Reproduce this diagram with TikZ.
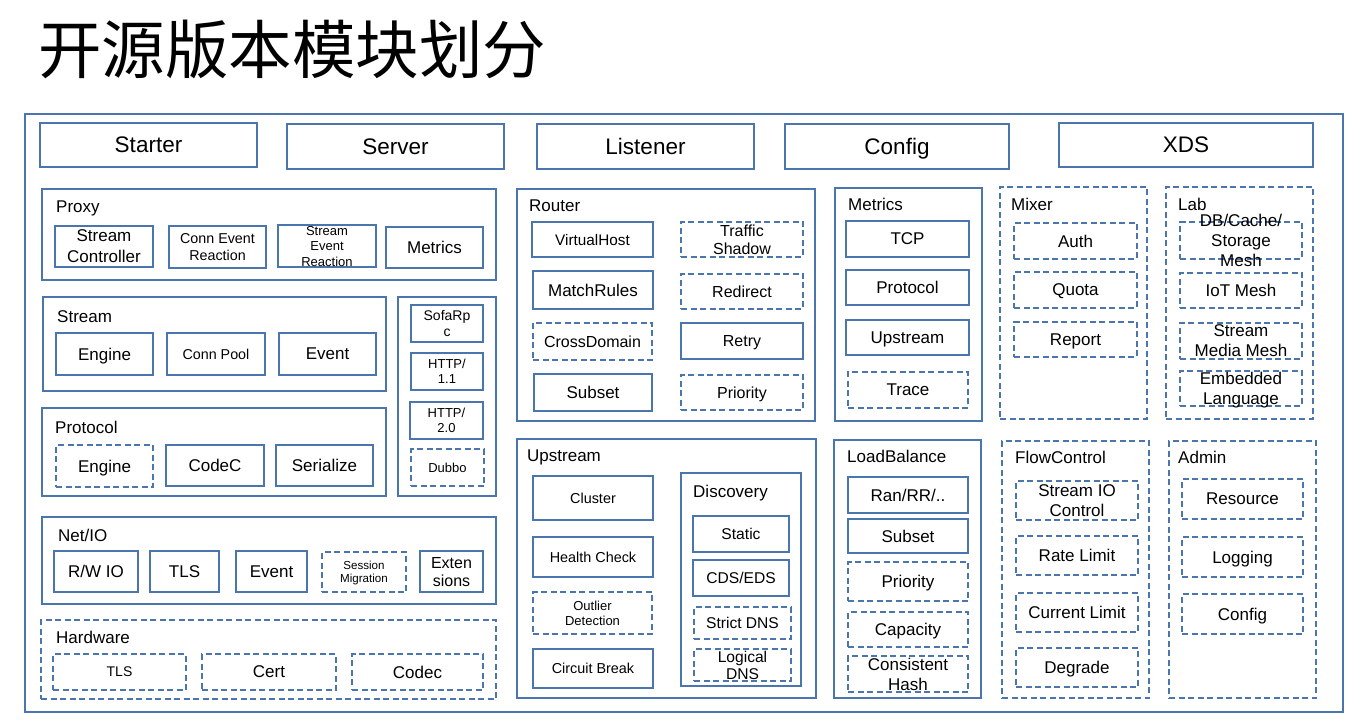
\documentclass[tikz,border=0pt]{standalone}
\usepackage{fontspec}
\setmainfont{Liberation Sans}
\newfontfamily\cjk{Noto Sans CJK SC}
\definecolor{bl}{HTML}{4A75AD}
\newcommand\fsz[2]{\fontsize{#1pt}{#2pt}\selectfont}
\tikzset{
  solidbox/.style={draw=bl, line width=1.3pt, rectangle, inner sep=0pt},
  dashbox/.style={solidbox, dash pattern=on 6pt off 3.5pt},
  lbl/.style={align=center, inner sep=0pt, text=black, text depth=0pt},
  sect/.style={anchor=base west, inner sep=0pt, text=black, font=\fsz{17}{20}}
}
% #1 style, #2 name, #3 x1, #4 y1, #5 x2, #6 y2, #7 font size, #8 line skip, #9 text
\newcommand\bxx[9]{%
  \node[#1, minimum width={(#5-#3)*1pt}, minimum height={(#6-#4)*1pt},
        label={[lbl, font=\fsz{#7}{#8}]center:{#9}}] (#2) at ({(#3+#5)/2},{-(#4+#6)/2}) {};}
\begin{document}
\begin{tikzpicture}[x=1pt,y=1pt]
\useasboundingbox (0,0) rectangle (1361,-727);
\node[anchor=west, inner sep=0pt, font=\cjk\fontsize{63.5pt}{68pt}\selectfont] (title) at (38,-49) {开源版本模块划分};
% outer
\bxx{solidbox}{outer}{25}{114}{1343}{712}{10}{12}{}
% top row
\bxx{solidbox}{starter}{40}{123}{257}{167}{22.5}{26}{Starter}
\bxx{solidbox}{server}{287}{124}{504}{169}{22.5}{26}{Server}
\bxx{solidbox}{listener}{537}{124}{754}{169}{22.5}{26}{Listener}
\bxx{solidbox}{config}{785}{124}{1009}{169}{22.5}{26}{Config}
\bxx{solidbox}{xds}{1059}{123}{1313}{167}{22.5}{26}{XDS}
% Proxy
\bxx{solidbox}{proxy}{42}{189}{496}{280}{10}{12}{}
\node[sect] (proxyl) at (56,-213) {Proxy};
\bxx{solidbox}{psc}{55}{226}{153}{267}{17}{21}{Stream\\Controller}
\bxx{solidbox}{pcer}{169}{226}{266}{268}{14.3}{17}{Conn Event\\Reaction}
\bxx{solidbox}{pser}{278}{225}{376}{267}{13}{15.5}{Stream\\Event\\Reaction}
\bxx{solidbox}{pmet}{386}{227}{483}{268}{17}{20}{Metrics}
% Stream
\bxx{solidbox}{stream}{43}{297}{386}{391}{10}{12}{}
\node[sect] (streaml) at (57,-323) {Stream};
\bxx{solidbox}{seng}{56}{333}{153}{375}{17}{20}{Engine}
\bxx{solidbox}{scp}{167}{333}{265}{375}{14.3}{17}{Conn Pool}
\bxx{solidbox}{sev}{279}{333}{376}{375}{17}{20}{Event}
% Protocol
\bxx{solidbox}{protocol}{42}{408}{386}{496}{10}{12}{}
\node[sect] (protocoll) at (55,-433) {Protocol};
\bxx{dashbox}{preng}{56}{445}{153}{487}{17}{20}{Engine}
\bxx{solidbox}{prcod}{166}{445}{264}{486}{17}{20}{CodeC}
\bxx{solidbox}{prser}{276}{445}{373}{486}{17}{20}{Serialize}
% side protocols
\bxx{solidbox}{side}{398}{297}{496}{496}{10}{12}{}
\bxx{solidbox}{sofa}{411}{305}{483}{342}{14}{16.5}{SofaRp\\c}
\bxx{solidbox}{h11}{411}{353}{483}{390}{13}{15}{HTTP/\\1.1}
\bxx{solidbox}{h20}{410}{402}{483}{439}{13}{15}{HTTP/\\2.0}
\bxx{dashbox}{dubbo}{411}{449}{484}{486}{13}{15}{Dubbo}
% Net/IO
\bxx{solidbox}{netio}{42}{517}{496}{604}{10}{12}{}
\node[sect] (netiol) at (58,-541) {Net/IO};
\bxx{solidbox}{rw}{54}{551}{138}{592}{17}{20}{R/W IO}
\bxx{solidbox}{ntls}{150}{551}{219}{592}{17}{20}{TLS}
\bxx{solidbox}{nev}{236}{551}{307}{592}{17}{20}{Event}
\bxx{dashbox}{sm}{322}{552}{406}{592}{11.6}{12.7}{Session\\Migration}
\bxx{solidbox}{ext}{420}{551}{483}{592}{16}{18}{Exten\\sions}
% Hardware
\bxx{dashbox}{hw}{41}{620}{496}{699}{10}{12}{}
\node[sect] (hwl) at (56,-643) {Hardware};
\bxx{dashbox}{htls}{53}{654}{186}{690}{14}{17}{TLS}
\bxx{dashbox}{cert}{202}{654}{336}{690}{17}{20}{Cert}
\bxx{dashbox}{codec}{352}{654}{483}{690}{17}{20}{Codec}
% Router
\bxx{solidbox}{router}{517}{189}{815}{421}{10}{12}{}
\node[sect] (routerl) at (529,-212) {Router};
\bxx{solidbox}{vh}{532}{222}{653}{257}{15.3}{18}{VirtualHost}
\bxx{dashbox}{ts}{681}{222}{803}{257}{16}{17.5}{Traffic\\Shadow}
\bxx{solidbox}{mr}{533}{271}{653}{309}{17}{20}{MatchRules}
\bxx{dashbox}{rd}{681}{274}{803}{309}{16}{19}{Redirect}
\bxx{dashbox}{cd}{533}{323}{652}{360}{16}{19}{CrossDomain}
\bxx{solidbox}{rt}{681}{323}{803}{359}{16}{19}{Retry}
\bxx{solidbox}{rsub}{534}{374}{652}{411}{17}{20}{Subset}
\bxx{dashbox}{rpri}{681}{375}{803}{410}{16}{19}{Priority}
% Metrics
\bxx{solidbox}{metrics}{835}{188}{982}{421}{10}{12}{}
\node[sect] (metricsl) at (848,-211) {Metrics};
\bxx{solidbox}{tcp}{846}{221}{969}{257}{17}{20}{TCP}
\bxx{solidbox}{mprot}{846}{270}{969}{305}{17}{20}{Protocol}
\bxx{solidbox}{mup}{846}{320}{969}{355}{17}{20}{Upstream}
\bxx{dashbox}{trace}{848}{372}{968}{408}{17}{20}{Trace}
% Mixer
\bxx{dashbox}{mixer}{1000}{187}{1147}{419}{10}{12}{}
\node[sect] (mixerl) at (1011,-211) {Mixer};
\bxx{dashbox}{auth}{1014}{223}{1137}{259}{17}{20}{Auth}
\bxx{dashbox}{quota}{1014}{272}{1137}{308}{17}{20}{Quota}
\bxx{dashbox}{report}{1014}{322}{1137}{357}{17}{20}{Report}
% Lab
\bxx{dashbox}{lab}{1166}{187}{1313}{419}{10}{12}{}
\node[sect] (labl) at (1178,-211) {Lab};
\bxx{dashbox}{db}{1180}{222}{1302}{259}{17}{20}{DB/Cache/\\Storage\\Mesh}
\bxx{dashbox}{iot}{1180}{273}{1302}{308}{17}{20}{IoT Mesh}
\bxx{dashbox}{smm}{1180}{323}{1302}{359}{17}{20}{Stream\\Media Mesh}
\bxx{dashbox}{emb}{1180}{371}{1302}{406}{17}{20}{Embedded\\Language}
% Upstream
\bxx{solidbox}{upstream}{517}{439}{816}{698}{10}{12}{}
\node[sect] (upstreaml) at (527,-461) {Upstream};
\bxx{solidbox}{cl}{533}{476}{653}{520}{14.4}{17}{Cluster}
\bxx{solidbox}{hc}{533}{537}{653}{577}{14.4}{17}{Health Check}
\bxx{dashbox}{od}{533}{592}{652}{634}{13}{15}{Outlier\\Detection}
\bxx{solidbox}{cb}{533}{649}{653}{688}{14.4}{17}{Circuit Break}
\bxx{solidbox}{disc}{681}{473}{801}{686}{10}{12}{}
\node[sect] (discl) at (693,-497) {Discovery};
\bxx{solidbox}{st}{693}{516}{789}{552}{15.6}{18}{Static}
\bxx{solidbox}{cds}{693}{560}{789}{596}{15.6}{18}{CDS/EDS}
\bxx{dashbox}{sdns}{694}{607}{791}{639}{15.6}{18}{Strict DNS}
\bxx{dashbox}{ldns}{694}{649}{791}{681}{15.6}{17}{Logical\\DNS}
% LoadBalance
\bxx{solidbox}{lb}{834}{440}{981}{698}{10}{12}{}
\node[sect] (lbl) at (847,-462) {LoadBalance};
\bxx{solidbox}{ran}{848}{477}{968}{513}{17}{20}{Ran/RR/..}
\bxx{solidbox}{lsub}{848}{519}{968}{553}{17}{20}{Subset}
\bxx{dashbox}{lpri}{848}{562}{968}{601}{17}{20}{Priority}
\bxx{dashbox}{cap}{848}{612}{968}{647}{17}{20}{Capacity}
\bxx{dashbox}{ch}{848}{656}{968}{692}{17}{20}{Consistent\\Hash}
% FlowControl
\bxx{dashbox}{fc}{1002}{441}{1149}{698}{10}{12}{}
\node[sect] (fcl) at (1015,-464) {FlowControl};
\bxx{dashbox}{sio}{1016}{481}{1138}{520}{17}{20}{Stream IO\\Control}
\bxx{dashbox}{rl}{1016}{536}{1138}{575}{17}{20}{Rate Limit}
\bxx{dashbox}{curl}{1016}{593}{1138}{632}{17}{20}{Current Limit}
\bxx{dashbox}{deg}{1016}{648}{1138}{687}{17}{20}{Degrade}
% Admin
\bxx{dashbox}{admin}{1169}{441}{1316}{698}{10}{12}{}
\node[sect] (adminl) at (1178,-464) {Admin};
\bxx{dashbox}{res}{1182}{479}{1303}{519}{17}{20}{Resource}
\bxx{dashbox}{log}{1182}{537}{1303}{577}{17}{20}{Logging}
\bxx{dashbox}{acfg}{1182}{594}{1303}{634}{17}{20}{Config}
\end{tikzpicture}
\end{document}
